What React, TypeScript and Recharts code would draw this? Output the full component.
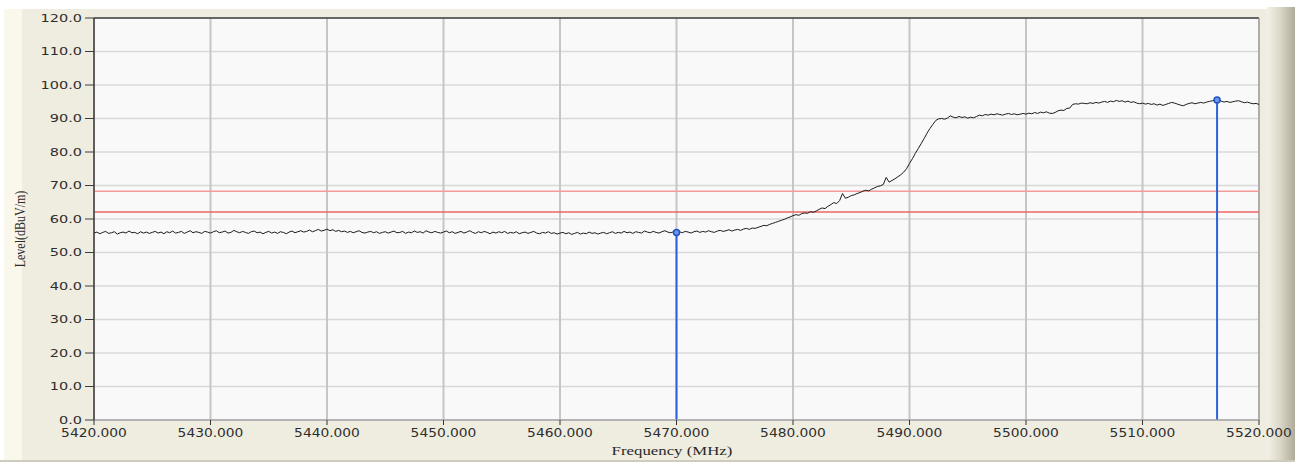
import React from 'react';
import { LineChart, Line, XAxis, YAxis, CartesianGrid, ReferenceLine, ReferenceDot } from 'recharts';

// Sweep grid of the analyser trace
const FREQ_START = 5420;
const FREQ_STEP = 0.25;

// Measured level (dBuV/m), one reading per sweep point, 5420.00 .. 5520.00 MHz
const LEVELS: number[] = [
  // 5420.00 - 5424.75
  55.8, 56.1, 55.6, 56.0, 56.3, 55.7, 55.9, 56.2, 55.5, 55.9, 56.1, 55.8, 56.4, 55.9, 56.0, 55.6, 56.2, 55.8, 56.1, 55.7,
  // 5425.00 - 5429.75
  56.0, 56.3, 55.8, 56.1, 55.6, 56.2, 55.9, 56.4, 55.8, 56.0, 56.3, 55.7, 56.1, 56.5, 55.9, 56.2, 56.0, 55.7, 56.3, 56.1,
  // 5430.00 - 5434.75
  55.8, 56.2, 56.5, 55.9, 56.1, 56.4, 55.8, 56.0, 56.6, 56.2, 55.9, 56.3, 56.0, 55.7, 56.2, 56.4, 55.9, 56.1, 55.6, 56.0,
  // 5435.00 - 5439.75
  56.3, 55.8, 56.1, 55.7, 56.2, 56.0, 55.6, 56.1, 56.4, 55.9, 56.2, 56.5, 56.1, 56.3, 56.7, 56.2, 56.5, 56.9, 56.4, 56.6,
  // 5440.00 - 5444.75
  57.0, 56.5, 56.8, 56.3, 56.6, 56.2, 56.4, 56.0, 56.3, 55.9, 56.2, 56.5, 56.0, 55.8, 56.1, 56.3, 55.9, 56.2, 55.7, 56.0,
  // 5445.00 - 5449.75
  56.2, 55.8, 56.1, 56.4, 55.9, 56.0, 56.3, 55.7, 56.1, 55.9, 56.4, 56.0, 56.2, 55.8, 56.5, 56.1, 55.9, 56.3, 56.0, 55.8,
  // 5450.00 - 5454.75
  56.1, 56.4, 55.9, 56.2, 55.7, 56.0, 56.3, 55.8, 56.1, 56.5, 56.0, 55.7, 56.2, 55.9, 56.3, 56.0, 55.6, 56.1, 55.8, 56.2,
  // 5455.00 - 5459.75
  55.9, 56.3, 55.7, 56.0, 55.8, 56.2, 55.6, 55.9, 56.1, 55.7, 56.0, 56.3, 55.8, 55.6, 56.0, 55.8, 56.2, 55.7, 55.9, 55.5,
  // 5460.00 - 5464.75
  55.8, 56.0, 55.6, 55.9, 55.4, 55.7, 56.0, 55.5, 55.8, 55.6, 56.1, 55.7, 55.9, 55.5, 55.8, 56.0, 55.6, 55.9, 56.2, 55.7,
  // 5465.00 - 5469.75
  56.0, 55.8, 56.3, 55.9, 56.1, 55.7, 56.2, 56.0, 55.8, 56.4, 56.1, 55.9, 56.3, 56.0, 55.8, 56.2, 56.5, 56.1, 55.9, 56.2,
  // 5470.00
  56.0,
  // 5470.25 - 5475.00
  56.2, 55.9, 56.3, 56.1, 55.8, 56.2, 56.4, 56.0, 56.3, 56.1, 56.5, 56.2, 56.0, 56.4, 56.6, 56.3, 56.5, 56.8, 56.4, 56.7,
  // 5475.25 - 5480.00
  56.9, 56.6, 57.0, 57.2, 56.9, 57.3, 57.2, 57.5, 57.8, 58.1, 58.0, 58.4, 58.7, 59.0, 59.3, 59.6, 59.9, 60.3, 60.6, 61.0,
  // 5480.25 - 5485.00
  61.3, 61.1, 61.6, 61.8, 61.7, 62.2, 62.0, 62.4, 62.9, 63.3, 63.1, 63.8, 64.3, 64.9, 64.6, 65.5, 67.6, 66.2, 66.5, 67.0,
  // 5485.25 - 5490.00
  67.2, 67.6, 67.9, 68.3, 68.6, 68.4, 68.9, 69.3, 69.7, 69.9, 70.3, 72.4, 71.0, 71.5, 72.0, 72.6, 73.2, 74.0, 75.0, 76.6,
  // 5490.25 - 5495.00
  78.0, 79.6, 81.0, 82.5, 84.0, 85.6, 87.0, 88.2, 89.4, 89.9, 90.0, 89.8, 90.1, 90.8, 90.4, 90.2, 90.6, 90.3, 90.5, 90.1,
  // 5495.25 - 5500.00
  90.4, 90.2, 90.6, 91.0, 90.8, 91.2, 91.0, 91.3, 91.1, 91.4, 91.2, 91.0, 91.3, 91.5, 91.2, 91.4, 91.1, 91.3, 91.5, 91.3,
  // 5500.25 - 5505.00
  91.6, 91.4, 91.8, 91.5, 91.9, 91.7, 92.0, 91.6, 91.5, 91.8, 92.3, 92.5, 92.4, 93.0, 93.1, 94.2, 94.4, 94.3, 94.6, 94.5,
  // 5505.25 - 5510.00
  94.4, 94.7, 94.5, 94.8, 94.6, 94.9, 95.1, 94.8, 95.2, 95.0, 95.4, 95.1, 95.3, 94.9, 95.2, 94.8, 95.0, 94.6, 94.4, 94.6,
  // 5510.25 - 5515.00
  94.3, 94.5, 94.2, 94.4, 94.0, 94.3, 93.9, 94.2, 94.5, 94.8, 94.6, 94.3, 94.0, 93.8, 94.2, 94.5, 94.7, 94.4, 94.6, 94.8,
  // 5515.25 - 5520.00
  94.6, 94.9, 95.1, 95.3, 95.4, 95.5, 95.2, 94.9, 95.1, 94.8, 95.0, 95.2, 95.3, 95.0, 94.7, 94.9, 94.6, 94.4, 94.5, 94.2,
];

const X_TICKS = [5420, 5430, 5440, 5450, 5460, 5470, 5480, 5490, 5500, 5510, 5520];
const Y_TICKS = [0, 10, 20, 30, 40, 50, 60, 70, 80, 90, 100, 110, 120];

const LIMIT_LINES = [68.3, 62.1];
const LIMIT_COLORS = ['#f39a9a', '#ee6666'];

const MARKER_FREQS = [5470.0, 5516.4];
const MARKER_LEVELS = [56.0, 95.5];

const data = LEVELS.map((v, i) => ({ f: FREQ_START + i * FREQ_STEP, v }));

const TICK_FONT = '"DejaVu Sans", Verdana, sans-serif';

const XTick = (props: any) => {
  const { x, payload } = props;
  return (
    <g transform={`translate(${x},437) scale(1.2,1)`}>
      <text x={0} y={0} textAnchor="middle" fontFamily={TICK_FONT} fontSize={11.5} fill="#2e2e2e">
        {Number(payload.value).toFixed(3)}
      </text>
    </g>
  );
};

const YTick = (props: any) => {
  const { y, payload } = props;
  return (
    <g transform={`translate(82,${y + 3.6}) scale(1.45,1)`}>
      <text x={0} y={0} textAnchor="end" fontFamily={TICK_FONT} fontSize={10} fill="#2e2e2e">
        {Number(payload.value).toFixed(1)}
      </text>
    </g>
  );
};

export default function App() {
  return (
    <div
      style={{
        position: 'absolute',
        left: 0,
        top: 0,
        width: 1295,
        height: 462,
        background: '#efece0',
        overflow: 'hidden',
      }}
    >
      {/* window chrome */}
      <div style={{ position: 'absolute', left: 0, top: 0, width: 1295, height: 9, background: '#ffffff' }} />
      <div style={{ position: 'absolute', left: 0, top: 9, width: 22, height: 453, background: '#faf8ed' }} />
      <div style={{ position: 'absolute', left: 0, top: 9, width: 4, height: 453, background: '#ffffff' }} />
      <div
        style={{
          position: 'absolute',
          left: 1267,
          top: 7,
          width: 28,
          height: 455,
          background: 'linear-gradient(to right, #f3f1e6, #dcd9c9 45%, #aeab9b)',
        }}
      />
      <div style={{ position: 'absolute', left: 0, top: 460, width: 1295, height: 2, background: '#cfccbd' }} />

      <div style={{ position: 'absolute', left: 0, top: 0 }}>
        <LineChart width={1295} height={462} data={data} margin={{ top: 18, right: 36, bottom: 0, left: 0 }}>
          <CartesianGrid horizontal={true} vertical={false} stroke="#d9d9d9" strokeWidth={1.5} fill="#f9f9f9" />
          <CartesianGrid horizontal={false} vertical={true} stroke="#c6c6c6" strokeWidth={2} />
          <XAxis
            dataKey="f"
            type="number"
            domain={[5420, 5520]}
            ticks={X_TICKS}
            height={42}
            allowDataOverflow
            axisLine={{ stroke: '#a4a4a4', strokeWidth: 1.5 }}
            tickLine={{ stroke: '#333333', strokeWidth: 1 }}
            tickSize={5}
            tick={<XTick />}
            interval={0}
          />
          <YAxis
            type="number"
            domain={[0, 120]}
            ticks={Y_TICKS}
            width={94}
            allowDataOverflow
            axisLine={{ stroke: '#3c3c3c', strokeWidth: 1.5 }}
            tickLine={{ stroke: '#3c3c3c', strokeWidth: 1 }}
            tickSize={9}
            tick={<YTick />}
            interval={0}
          />
          <ReferenceLine y={120} stroke="#3c3c3c" strokeWidth={1.5} />
          <ReferenceLine x={5520} stroke="#a4a4a4" strokeWidth={1.5} />
          {LIMIT_LINES.map((lv, i) => (
            <ReferenceLine key={`lim${i}`} y={lv} stroke={LIMIT_COLORS[i]} strokeWidth={1.5} />
          ))}
          <Line
            type="linear"
            dataKey="v"
            stroke="#1c1c1c"
            strokeWidth={1}
            dot={false}
            activeDot={false}
            isAnimationActive={false}
          />
          {MARKER_FREQS.map((f, i) => (
            <ReferenceLine
              key={`mk${i}`}
              segment={[
                { x: f, y: 0 },
                { x: f, y: MARKER_LEVELS[i] },
              ]}
              stroke="#2d63d8"
              strokeWidth={2}
            />
          ))}
          {MARKER_FREQS.map((f, i) => (
            <ReferenceDot
              key={`md${i}`}
              x={f}
              y={MARKER_LEVELS[i]}
              r={3}
              fill="#6d95ea"
              stroke="#1f52c4"
              strokeWidth={1.5}
            />
          ))}
        </LineChart>
      </div>

      {/* axis titles */}
      <div
        style={{
          position: 'absolute',
          left: 672,
          top: 451,
          transform: 'translate(-50%, -50%) scaleX(1.4)',
          fontFamily: '"Liberation Serif", "Times New Roman", serif',
          fontSize: 12,
          color: '#2a2a2a',
          whiteSpace: 'nowrap',
          lineHeight: '14px',
        }}
      >
        Frequency (MHz)
      </div>
      <div
        style={{
          position: 'absolute',
          left: 20,
          top: 229,
          transform: 'translate(-50%, -50%) scaleX(1.25) rotate(-90deg)',
          fontFamily: '"Liberation Serif", "Times New Roman", serif',
          fontSize: 12,
          color: '#2a2a2a',
          whiteSpace: 'nowrap',
          lineHeight: '14px',
        }}
      >
        Level(dBuV/m)
      </div>
    </div>
  );
}
